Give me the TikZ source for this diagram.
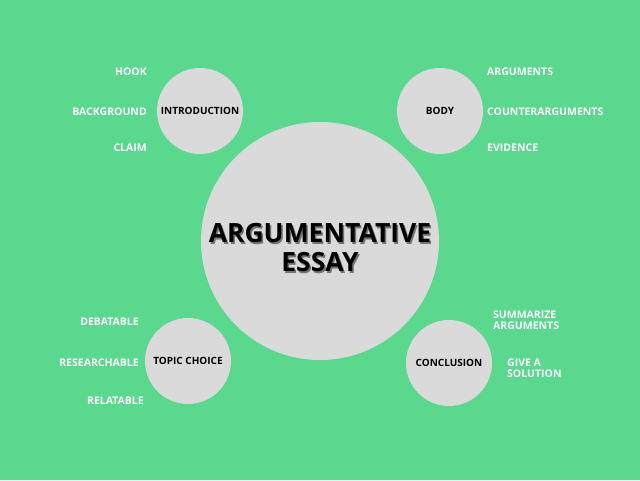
\documentclass[tikz,border=0pt]{standalone}
\usepackage{fontspec}
\setmainfont{Open Sans}
\usetikzlibrary{positioning}
\definecolor{mint}{HTML}{59D88E}
\definecolor{lightgrey}{HTML}{DADADA}

\begin{document}
\begin{tikzpicture}[
  x=1pt, y=-1pt,
  hub/.style={circle, fill=lightgrey, minimum size=238pt, inner sep=0pt},
  part/.style={circle, fill=lightgrey, minimum size=86pt, inner sep=0pt, font=\bfseries\fontsize{10}{11}\selectfont},
  lbl/.style={text=white, inner sep=0pt, font=\bfseries\fontsize{10.5}{11}\selectfont},
  title/.style={align=center, inner sep=0pt, font=\bfseries\fontsize{26.5}{29}\selectfont}
]
\fill[mint] (0,0) rectangle (640,480);

\node[hub] (essay) at (320,241) {};
\node[title, text=black!55] (shadow) at (321.5,249.5) {ARGUMENTATIVE\\ESSAY};
\node[title] (name) at (320,248) {ARGUMENTATIVE\\ESSAY};

\node[part] (intro) at (200,111) {INTRODUCTION};
\node[part] (body) at (440,111) {BODY};
\node[part] (topic) at (188,361) {TOPIC CHOICE};
\node[part] (concl) at (449,363) {CONCLUSION};

\node[lbl, anchor=east] (hook) at (147,72) {HOOK};
\node[lbl, anchor=east] (background) at (147,112) {BACKGROUND};
\node[lbl, anchor=east] (claim) at (147,148) {CLAIM};

\node[lbl, anchor=west] (args) at (487,72) {ARGUMENTS};
\node[lbl, anchor=west] (counter) at (487,112) {COUNTERARGUMENTS};
\node[lbl, anchor=west] (evidence) at (487,148) {EVIDENCE};

\node[lbl, anchor=east] (debatable) at (139,322) {DEBATABLE};
\node[lbl, anchor=east] (research) at (139,363) {RESEARCHABLE};
\node[lbl, anchor=east] (relatable) at (144,401) {RELATABLE};

\node[lbl, anchor=west, align=left] (summarize) at (493,320.5) {SUMMARIZE\\ARGUMENTS};
\node[lbl, anchor=west, align=left] (solution) at (507,368.5) {GIVE A\\SOLUTION};
\end{tikzpicture}
\end{document}
